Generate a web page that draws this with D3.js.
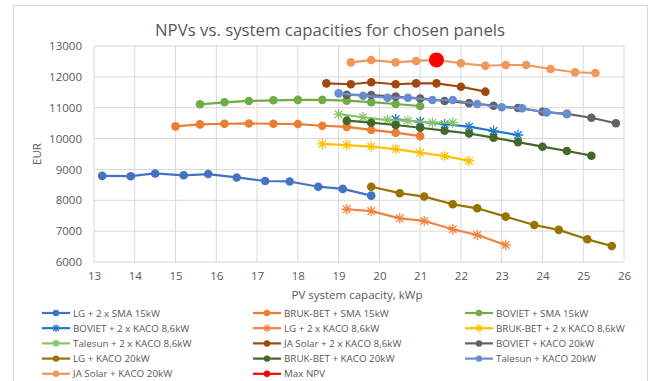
<!DOCTYPE html>
<html>
<head>
<meta charset="utf-8">
<script src="https://cdn.jsdelivr.net/npm/d3@7"></script>
<style>
  body { margin: 0; background: #fff; }
  text { font-family: "Open Sans", "Noto Sans", sans-serif; fill: #595959; }
</style>
</head>
<body>
<svg id="chart"></svg>
<script>
// capacity (kWp) / NPV (EUR) pairs per panel + inverter combination
const lgSma15 = [[13.2, 8790], [13.9, 8780], [14.5, 8870], [15.2, 8810], [15.8, 8850], [16.5, 8740], [17.2, 8625], [17.8, 8610], [18.5, 8440], [19.1, 8370], [19.8, 8150]];
const brukbetSma15 = [[15.0, 10395], [15.6, 10460], [16.2, 10480], [16.8, 10490], [17.4, 10480], [18.0, 10470], [18.6, 10415], [19.2, 10380], [19.8, 10280], [20.4, 10190], [21.0, 10080]];
const bovietSma15 = [[15.6, 11110], [16.2, 11175], [16.8, 11220], [17.4, 11240], [18.0, 11255], [18.6, 11255], [19.2, 11230], [19.8, 11180], [20.4, 11120], [21.0, 11055]];
const bovietKaco86 = [[20.4, 10625], [21.0, 10545], [21.6, 10465], [22.2, 10385], [22.8, 10245], [23.4, 10115]];
const lgKaco86 = [[19.2, 7710], [19.8, 7650], [20.5, 7415], [21.1, 7330], [21.8, 7060], [22.4, 6875], [23.1, 6550]];
const brukbetKaco86 = [[18.6, 9825], [19.2, 9790], [19.8, 9740], [20.4, 9660], [21.0, 9545], [21.6, 9435], [22.2, 9275]];
const talesunKaco86 = [[19.0, 10790], [19.6, 10690], [20.2, 10600], [20.7, 10580], [21.3, 10515], [21.8, 10515]];
const jaSolarKaco86 = [[18.7, 11790], [19.3, 11760], [19.8, 11825], [20.4, 11760], [20.9, 11790], [21.4, 11790], [22.0, 11680], [22.6, 11520]];
const bovietKaco20 = [[19.2, 11415], [19.8, 11410], [20.4, 11360], [21.0, 11300], [21.6, 11220], [22.2, 11150], [22.8, 11065], [23.4, 10990], [24.0, 10870], [24.6, 10800], [25.2, 10675], [25.8, 10495]];
const lgKaco20 = [[19.8, 8440], [20.5, 8230], [21.1, 8120], [21.8, 7870], [22.4, 7740], [23.1, 7470], [23.8, 7200], [24.4, 7040], [25.1, 6735], [25.7, 6520]];
const brukbetKaco20 = [[19.2, 10580], [19.8, 10515], [20.4, 10440], [21.0, 10350], [21.6, 10255], [22.2, 10165], [22.8, 10030], [23.4, 9885], [24.0, 9737], [24.6, 9597], [25.2, 9445]];
const talesunKaco20 = [[19.0, 11465], [19.6, 11390], [20.2, 11325], [20.7, 11325], [21.3, 11250], [21.8, 11250], [22.4, 11120], [23.0, 11015], [23.5, 10980], [24.1, 10850], [24.6, 10795]];
const jaSolarKaco20 = [[19.3, 12470], [19.8, 12545], [20.4, 12470], [20.9, 12515], [21.4, 12550], [22.0, 12440], [22.6, 12360], [23.1, 12385], [23.6, 12385], [24.2, 12255], [24.8, 12150], [25.3, 12125]];
const maxNpv = [[21.4, 12550]];

const seriesNames = [
  "LG + 2 x SMA 15kW", "BRUK-BET + SMA 15kW", "BOVIET + SMA 15kW",
  "BOVIET + 2 x KACO 8,6kW", "LG + 2 x KACO 8,6kW", "BRUK-BET + 2 x KACO 8,6kW",
  "Talesun + 2 x KACO 8,6kW", "JA Solar + 2 x KACO 8,6kW", "BOVIET + KACO 20kW",
  "LG + KACO 20kW", "BRUK-BET + KACO 20kW", "Talesun + KACO 20kW",
  "JA Solar + KACO 20kW", "Max NPV"
];
const seriesData = [lgSma15, brukbetSma15, bovietSma15, bovietKaco86, lgKaco86, brukbetKaco86,
  talesunKaco86, jaSolarKaco86, bovietKaco20, lgKaco20, brukbetKaco20, talesunKaco20, jaSolarKaco20, maxNpv];
const seriesColors = ["#4472C4", "#ED7D31", "#70AD47", "#1F78C8", "#F4823F", "#FFC000",
  "#86C466", "#9E480E", "#636363", "#997300", "#43682B", "#698ED0", "#F1975A", "#FF0000"];
const seriesMarkers = ["circle", "circle", "circle", "star", "star", "star", "star",
  "circle", "circle", "circle", "circle", "circle", "circle", "big"];

const xTicks = d3.range(13, 27, 1);
const yTicks = d3.range(6000, 13001, 1000);

const width = 652, height = 381;
const svg = d3.select("#chart").attr("width", width).attr("height", height);

svg.append("rect")
   .attr("x", 13.5).attr("y", 5.5)
   .attr("width", 634).attr("height", 390)
   .attr("fill", "#fff").attr("stroke", "#D9D9D9");

const x = d3.scaleLinear().domain([13, 26]).range([94, 624]);
const y = d3.scaleLinear().domain([6000, 13000]).range([262, 46]);

// grid
const grid = svg.append("g");
grid.selectAll(".vg").data(xTicks).enter().append("line")
    .attr("x1", d => x(d)).attr("x2", d => x(d))
    .attr("y1", y(13000)).attr("y2", y(6000))
    .attr("stroke", "#D9D9D9").attr("stroke-width", 1);
grid.selectAll(".hg").data(yTicks).enter().append("line")
    .attr("x1", x(13)).attr("x2", x(26))
    .attr("y1", d => y(d)).attr("y2", d => y(d))
    .attr("stroke", "#D9D9D9").attr("stroke-width", 1);

// axes
const xAxis = d3.axisBottom(x).tickValues(xTicks).tickSize(0).tickPadding(10);
const yAxis = d3.axisLeft(y).tickValues(yTicks).tickSize(0).tickPadding(12).tickFormat(d3.format("d"));
svg.append("g").attr("transform", `translate(0,${y(6000)})`).call(xAxis)
   .call(g => g.select(".domain").remove())
   .selectAll("text").style("font-size", "11.5px").attr("fill", "#595959");
svg.append("g").attr("transform", `translate(${x(13)},0)`).call(yAxis)
   .call(g => g.select(".domain").remove())
   .selectAll("text").style("font-size", "11.5px").attr("fill", "#595959");

svg.append("text")
   .attr("x", 330).attr("y", 36)
   .attr("text-anchor", "middle")
   .style("font-size", "16.8px")
   .text("NPVs vs. system capacities for chosen panels");

svg.append("text")
   .attr("transform", "translate(41,154) rotate(-90)")
   .attr("text-anchor", "middle")
   .style("font-size", "11.5px")
   .text("EUR");

svg.append("text")
   .attr("x", 357).attr("y", 299)
   .attr("text-anchor", "middle")
   .style("font-size", "11.5px")
   .text("PV system capacity, kWp");

const star = {
  draw(ctx, size) {
    const r = Math.sqrt(size) / 2;
    const d = r * 0.72;
    ctx.moveTo(-r, 0); ctx.lineTo(r, 0);
    ctx.moveTo(0, -r); ctx.lineTo(0, r);
    ctx.moveTo(-d, -d); ctx.lineTo(d, d);
    ctx.moveTo(-d, d); ctx.lineTo(d, -d);
  }
};

function drawMarker(g, kind, color, cx, cy, scale) {
  if (kind === "star") {
    g.append("path")
     .attr("d", d3.symbol().type(star).size(110 * scale * scale)())
     .attr("transform", `translate(${cx},${cy})`)
     .attr("fill", "none").attr("stroke", color).attr("stroke-width", 1.3);
  } else {
    g.append("circle")
     .attr("cx", cx).attr("cy", cy)
     .attr("r", (kind === "big" ? 7.5 : 4.3) * scale)
     .attr("fill", color);
  }
}

const line = d3.line().x(d => x(d[0])).y(d => y(d[1]));
const plot = svg.append("g");
seriesData.forEach((data, i) => {
  const g = plot.append("g");
  g.append("path").datum(data)
   .attr("d", line)
   .attr("fill", "none")
   .attr("stroke", seriesColors[i])
   .attr("stroke-width", 2.2)
   .attr("stroke-linejoin", "round");
  data.forEach(d => drawMarker(g, seriesMarkers[i], seriesColors[i], x(d[0]), y(d[1]), 1));
});

// legend, three columns
const legendX = [42, 253, 465];
const legend = svg.append("g");
seriesNames.forEach((name, i) => {
  const col = i % 3, row = Math.floor(i / 3);
  const lx = legendX[col], ly = 313 + row * 15.2;
  const g = legend.append("g");
  g.append("line")
   .attr("x1", lx).attr("x2", lx + 28)
   .attr("y1", ly).attr("y2", ly)
   .attr("stroke", seriesColors[i]).attr("stroke-width", 2.2);
  drawMarker(g, seriesMarkers[i] === "big" ? "circle" : seriesMarkers[i], seriesColors[i], lx + 14, ly, 0.75);
  g.append("text")
   .attr("x", lx + 31).attr("y", ly + 3.6)
   .style("font-size", "9.8px")
   .text(name);
});
</script>
</body>
</html>
